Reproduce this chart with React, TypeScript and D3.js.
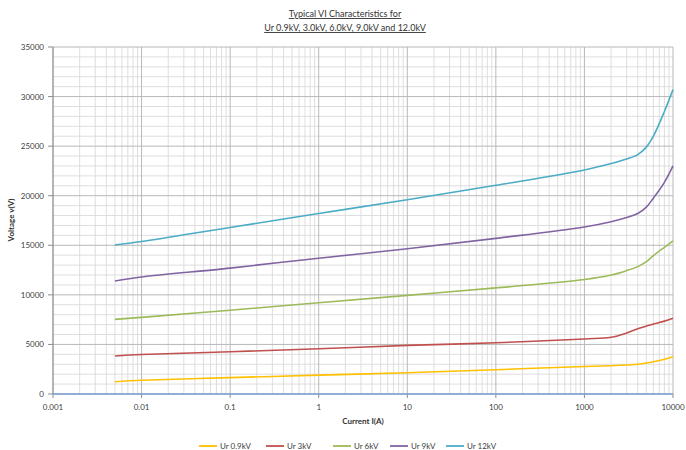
import React from "react";
import * as d3 from "d3";

const currents = [0.005, 0.01, 0.1, 1, 10, 100, 1000, 2000, 3000, 4000, 5000, 6000, 8000, 10000];
const ur09 = [1240, 1380, 1650, 1900, 2150, 2450, 2780, 2850, 2920, 3000, 3120, 3250, 3500, 3750];
const ur3 = [3830, 3980, 4260, 4560, 4900, 5170, 5550, 5720, 6150, 6580, 6850, 7050, 7350, 7650];
const ur6 = [7530, 7730, 8450, 9200, 9950, 10700, 11550, 12000, 12450, 12850, 13350, 13950, 14800, 15450];
const ur9 = [11400, 11800, 12700, 13700, 14650, 15700, 16850, 17380, 17800, 18200, 18850, 19750, 21350, 23000];
const ur12 = [15030, 15380, 16800, 18200, 19600, 21050, 22600, 23250, 23700, 24150, 24900, 26000, 28500, 30700];
const seriesNames = ["Ur 0.9kV", "Ur 3kV", "Ur 6kV", "Ur 9kV", "Ur 12kV"];
const seriesColors = ["#FFC000", "#C0504D", "#9BBB59", "#8064A2", "#4BACC6"];
const xTicks = [0.001, 0.01, 0.1, 1, 10, 100, 1000, 10000];
const yTicks = [0, 5000, 10000, 15000, 20000, 25000, 30000, 35000];

export default function App() {
  const W = 686, H = 450;
  const x = d3.scaleLog().domain([0.001, 10000]).range([53, 673]);
  const y = d3.scaleLinear().domain([0, 35000]).range([394, 47]);
  const seriesVals = [ur09, ur3, ur6, ur9, ur12];
  const line = d3.line<[number, number]>().x(d => x(d[0])).y(d => y(d[1])).curve(d3.curveCatmullRom.alpha(0.5));

  const minorX: number[] = [];
  for (let e = -3; e < 4; e++) for (let k = 2; k <= 9; k++) minorX.push(k * Math.pow(10, e));
  const minorY = d3.range(0, 35001, 1000).filter(v => v % 5000 !== 0);
  const font = "Lato, 'Open Sans', sans-serif";
  const legendX = [199, 266, 333, 390, 446];

  return (
    <div style={{ position: "fixed", left: 0, top: 0 }}>
      <svg width={W} height={H} style={{ display: "block", background: "#fff" }} fontFamily={font}>
        {minorX.map((v, i) => (
          <line key={"mx" + i} x1={x(v)} x2={x(v)} y1={y(0)} y2={y(35000)} stroke="#dadada" strokeWidth={0.9} />
        ))}
        {minorY.map((v, i) => (
          <line key={"my" + i} x1={x(0.001)} x2={x(10000)} y1={y(v)} y2={y(v)} stroke="#dadada" strokeWidth={0.9} />
        ))}
        {xTicks.map((v, i) => (
          <line key={"Mx" + i} x1={x(v)} x2={x(v)} y1={y(0)} y2={y(35000)} stroke="#b8b8b8" strokeWidth={1} />
        ))}
        {yTicks.map((v, i) => (
          <line key={"My" + i} x1={x(0.001)} x2={x(10000)} y1={y(v)} y2={y(v)} stroke="#b8b8b8" strokeWidth={1} />
        ))}
        <line x1={x(0.001)} x2={x(0.001)} y1={y(0)} y2={y(35000)} stroke="#8c8c8c" strokeWidth={1} />
        {yTicks.map((v, i) => (
          <g key={"yt" + i}>
            <line x1={x(0.001) - 5} x2={x(0.001)} y1={y(v)} y2={y(v)} stroke="#8c8c8c" />
            <text x={44} y={y(v) + 3} textAnchor="end" fontSize={8} fill="#404040">{v}</text>
          </g>
        ))}
        {xTicks.map((v, i) => (
          <g key={"xt" + i}>
            <line x1={x(v)} x2={x(v)} y1={y(0)} y2={y(0) + 4} stroke="#8c8c8c" />
            <text x={x(v)} y={410} textAnchor="middle" fontSize={8} fill="#404040">{String(v)}</text>
          </g>
        ))}
        <line x1={x(0.001)} x2={x(10000)} y1={y(0)} y2={y(0)} stroke="#7a9fd6" strokeWidth={1.5} />
        {seriesVals.map((vals, si) => (
          <path key={"s" + si} d={line(currents.map((c, i) => [c, vals[i]] as [number, number])) || ""}
            fill="none" stroke={seriesColors[si]} strokeWidth={1.6} />
        ))}
        <text x={345} y={17} textAnchor="middle" fontSize={9} fill="#333" textDecoration="underline">Typical VI Characteristics for</text>
        <text x={345} y={31} textAnchor="middle" fontSize={9} fill="#333" textDecoration="underline">Ur 0.9kV, 3.0kV, 6.0kV, 9.0kV and 12.0kV</text>
        <text x={363} y={424} textAnchor="middle" fontSize={8} fontWeight="bold" fill="#333">Current I(A)</text>
        <text transform="translate(14,220) rotate(-90)" textAnchor="middle" fontSize={8} fontWeight="bold" fill="#333">Voltage v(V)</text>
        {seriesNames.map((n, i) => (
          <g key={"lg" + i}>
            <line x1={legendX[i]} x2={legendX[i] + 18} y1={446} y2={446} stroke={seriesColors[i]} strokeWidth={1.8} />
            <text x={legendX[i] + 21} y={449} fontSize={8} fill="#404040">{n}</text>
          </g>
        ))}
      </svg>
    </div>
  );
}
